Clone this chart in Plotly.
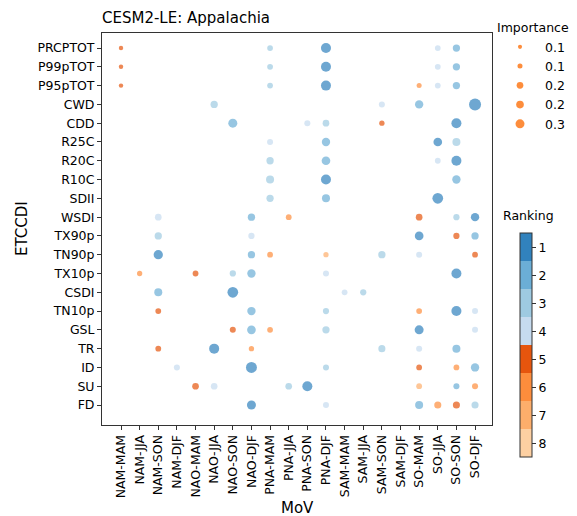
import plotly.graph_objects as go
import numpy as np

mov_names = ["NAM-MAM", "NAM-JJA", "NAM-SON", "NAM-DJF",
             "NAO-MAM", "NAO-JJA", "NAO-SON", "NAO-DJF",
             "PNA-MAM", "PNA-JJA", "PNA-SON", "PNA-DJF",
             "SAM-MAM", "SAM-JJA", "SAM-SON", "SAM-DJF",
             "SO-MAM", "SO-JJA", "SO-SON", "SO-DJF"]
etccdi_names = ["PRCPTOT", "P99pTOT", "P95pTOT", "CWD", "CDD", "R25C", "R20C", "R10C",
                "SDII", "WSDI", "TX90p", "TN90p", "TX10p", "CSDI", "TN10p", "GSL",
                "TR", "ID", "SU", "FD"]

# (MoV, index, ranking, importance)
pt_mov = []
pt_idx = []
pt_rank = []
pt_imp = []

def add(idx, entries):
    for m, r, v in entries:
        pt_mov.append(m); pt_idx.append(idx); pt_rank.append(r); pt_imp.append(v)

add("PRCPTOT", [("NAM-MAM", 5, 0.07), ("PNA-MAM", 3, 0.12), ("PNA-DJF", 1, 0.36), ("SO-JJA", 4, 0.12), ("SO-SON", 2, 0.19)])
add("P99pTOT", [("NAM-MAM", 5, 0.07), ("PNA-MAM", 3, 0.12), ("PNA-DJF", 1, 0.36), ("SO-JJA", 4, 0.12), ("SO-SON", 2, 0.19)])
add("P95pTOT", [("NAM-MAM", 5, 0.07), ("PNA-MAM", 3, 0.12), ("PNA-DJF", 1, 0.36), ("SO-MAM", 6, 0.09), ("SO-JJA", 4, 0.12), ("SO-SON", 2, 0.19)])
add("CWD", [("NAO-JJA", 3, 0.19), ("SAM-SON", 4, 0.13), ("SO-MAM", 2, 0.25), ("SO-DJF", 1, 0.52)])
add("CDD", [("NAO-SON", 2, 0.29), ("PNA-SON", 4, 0.13), ("PNA-DJF", 3, 0.16), ("SAM-SON", 5, 0.10), ("SO-SON", 1, 0.36)])
add("R25C", [("PNA-MAM", 4, 0.13), ("PNA-DJF", 2, 0.25), ("SO-JJA", 1, 0.27), ("SO-SON", 3, 0.23)])
add("R20C", [("PNA-MAM", 3, 0.19), ("PNA-DJF", 2, 0.27), ("SO-JJA", 4, 0.12), ("SO-SON", 1, 0.36)])
add("R10C", [("PNA-MAM", 3, 0.23), ("PNA-DJF", 1, 0.36), ("SO-SON", 2, 0.25)])
add("SDII", [("PNA-MAM", 3, 0.19), ("PNA-DJF", 2, 0.23), ("SO-JJA", 1, 0.41)])
add("WSDI", [("NAM-SON", 4, 0.16), ("NAO-DJF", 2, 0.19), ("PNA-JJA", 6, 0.12), ("SO-MAM", 5, 0.16), ("SO-SON", 3, 0.14), ("SO-DJF", 1, 0.25)])
add("TX90p", [("NAM-SON", 3, 0.19), ("NAO-DJF", 4, 0.14), ("SO-MAM", 1, 0.27), ("SO-SON", 5, 0.14), ("SO-DJF", 2, 0.19)])
add("TN90p", [("NAM-SON", 1, 0.31), ("NAO-DJF", 2, 0.19), ("PNA-MAM", 6, 0.12), ("PNA-DJF", 7, 0.10), ("SAM-SON", 3, 0.19), ("SO-MAM", 4, 0.13), ("SO-DJF", 5, 0.12)])
add("TX10p", [("NAM-JJA", 6, 0.10), ("NAO-MAM", 5, 0.12), ("NAO-SON", 3, 0.14), ("NAO-DJF", 2, 0.25), ("PNA-DJF", 4, 0.13), ("SO-SON", 1, 0.36)])
add("CSDI", [("NAM-SON", 2, 0.23), ("NAO-SON", 1, 0.41), ("SAM-MAM", 4, 0.12), ("SAM-JJA", 3, 0.14)])
add("TN10p", [("NAM-SON", 5, 0.12), ("NAO-DJF", 2, 0.25), ("PNA-DJF", 3, 0.14), ("SO-MAM", 6, 0.12), ("SO-SON", 1, 0.36), ("SO-DJF", 4, 0.13)])
add("GSL", [("NAO-SON", 5, 0.13), ("NAO-DJF", 2, 0.27), ("PNA-MAM", 6, 0.12), ("PNA-DJF", 3, 0.19), ("SO-MAM", 1, 0.29), ("SO-DJF", 4, 0.13)])
add("TR", [("NAM-SON", 5, 0.12), ("NAO-JJA", 1, 0.36), ("NAO-DJF", 6, 0.10), ("SAM-SON", 3, 0.18), ("SO-MAM", 4, 0.13), ("SO-SON", 2, 0.23)])
add("ID", [("NAM-DJF", 4, 0.13), ("NAO-DJF", 1, 0.43), ("PNA-DJF", 3, 0.13), ("SO-MAM", 5, 0.12), ("SO-SON", 6, 0.12), ("SO-DJF", 2, 0.25)])
add("SU", [("NAO-MAM", 5, 0.16), ("NAO-JJA", 4, 0.16), ("PNA-JJA", 3, 0.16), ("PNA-SON", 1, 0.36), ("SO-MAM", 7, 0.12), ("SO-SON", 2, 0.13), ("SO-DJF", 6, 0.13)])
add("FD", [("NAO-DJF", 1, 0.29), ("PNA-DJF", 4, 0.13), ("SO-MAM", 2, 0.23), ("SO-JJA", 6, 0.18), ("SO-SON", 5, 0.18), ("SO-DJF", 3, 0.18)])

rank_colors = ["#3182bd", "#6baed6", "#9ecae1", "#c6dbef",
               "#e6550d", "#fd8d3c", "#fdae6b", "#fdd0a2"]
rank_ticks = [1, 2, 3, 4, 5, 6, 7, 8]
legend_imp = [0.06, 0.09, 0.16, 0.21, 0.29]

SIZE_K = 16.7
def to_size(v):
    return SIZE_K * np.sqrt(np.asarray(v, dtype=float))

# discrete colorscale, value = -rank so rank 1 is on top
cs = []
n = len(rank_colors)
for i, col in enumerate(reversed(rank_colors)):
    cs.append([i / n, col])
    cs.append([(i + 1) / n, col])

xi = [mov_names.index(m) for m in pt_mov]
yi = [len(etccdi_names) - 1 - etccdi_names.index(e) for e in pt_idx]

FS = 12.5
PL, PR, PT, PB = 102, 492, 33, 425
PW, PH = PR - PL, PB - PT

fig = go.Figure()
fig.add_trace(go.Scatter(
    x=xi, y=yi, mode="markers", showlegend=False,
    marker=dict(size=to_size(pt_imp), color=[-r for r in pt_rank],
                colorscale=cs, cmin=-8.5, cmax=-0.5, line=dict(width=0),
                colorbar=dict(
                    tickvals=[-r for r in rank_ticks], ticktext=[str(r) for r in rank_ticks],
                    ticks="outside", ticklen=4, tickcolor="#333", tickwidth=1,
                    thickness=12, thicknessmode="pixels",
                    len=224, lenmode="pixels",
                    x=(519.5 - PL) / PW, xanchor="left", y=(PB - 344) / PH - 0.003, yanchor="middle",
                    xpad=0, ypad=0, outlinewidth=1, outlinecolor="#333",
                    tickfont=dict(size=FS, color="black"))),
    hoverinfo="skip"))

for v in legend_imp:
    fig.add_trace(go.Scatter(
        x=[None], y=[None], mode="markers", name=f"{v:.1f}",
        marker=dict(size=to_size(v), color="#fd8d3c", line=dict(width=0))))

fig.update_layout(
    width=577, height=516,
    margin=dict(l=PL, r=577 - PR, t=PT, b=516 - PB, autoexpand=False),
    paper_bgcolor="white", plot_bgcolor="white",
    font=dict(family="DejaVu Sans", size=FS, color="black"),
    title=dict(text="CESM2-LE: Appalachia", x=PL / 577, xanchor="left", xref="container",
               y=1 - 17.5 / 516, yanchor="middle", yref="container", font=dict(size=15)),
    legend=dict(title=dict(text="Importance", font=dict(size=FS)),
                x=1.0077, xanchor="left", y=1.0434, yanchor="top",
                itemsizing="trace", itemwidth=40, font=dict(size=FS), tracegroupgap=0,
                bgcolor="rgba(0,0,0,0)"),
    annotations=[
        dict(text="Ranking", x=(528.5 - PL) / PW, y=(PB - 215.5) / PH,
             xref="paper", yref="paper", showarrow=False, font=dict(size=FS),
             xanchor="center", yanchor="middle"),
        dict(text="MoV", x=0.5, y=(PB - 507.5) / PH, xref="paper", yref="paper",
             showarrow=False, font=dict(size=15), xanchor="center", yanchor="middle"),
        dict(text="ETCCDI", x=(22 - PL) / PW, y=0.5, xref="paper", yref="paper",
             showarrow=False, font=dict(size=15), textangle=-90,
             xanchor="center", yanchor="middle"),
    ],
)

fig.update_xaxes(
    range=[-1.02, 19.91], tickmode="array", tickvals=list(range(len(mov_names))),
    ticktext=mov_names, tickangle=-90, ticks="outside", ticklen=4, tickcolor="#333",
    showline=True, linecolor="#333", linewidth=1, mirror=True, showgrid=False, zeroline=False,
    automargin=False, tickfont=dict(size=FS))
fig.update_yaxes(
    range=[-1.064, 19.80], tickmode="array", tickvals=list(range(len(etccdi_names))),
    ticktext=list(reversed(etccdi_names)), ticks="outside", ticklen=4, tickcolor="#333",
    showline=True, linecolor="#333", linewidth=1, mirror=True, showgrid=False, zeroline=False,
    automargin=False, tickfont=dict(size=FS))

fig.write_html("out.html")
